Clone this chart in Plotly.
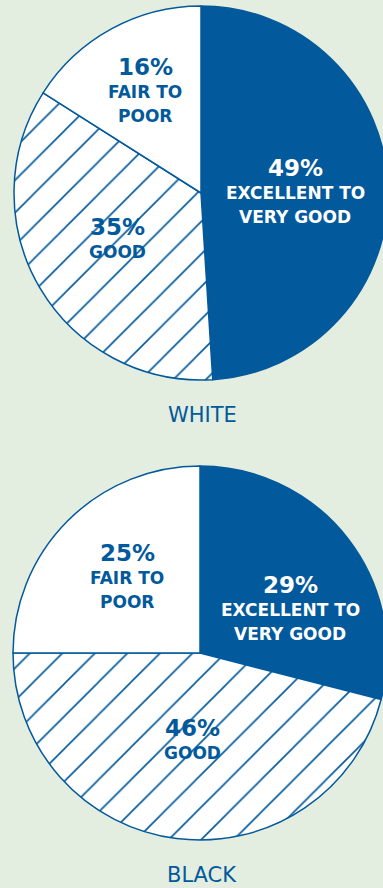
import plotly.graph_objects as go

# ---- data ----
categories = ["EXCELLENT TO<br>VERY GOOD", "GOOD", "FAIR TO<br>POOR"]
white_values = [49, 35, 16]
black_values = [29, 46, 25]
group_titles = ["WHITE", "BLACK"]

# ---- style ----
BLUE = "#02599b"
BG = "#e3ede0"
W, H = 390, 888
FONT = "DejaVu Sans"

slice_colors = [BLUE, "white", "white"]
slice_patterns = ["", "/", ""]
text_colors = ["white", BLUE, BLUE]

# pie geometry in pixels (center x, center y from top, radius)
pies = [(201, 193, 187), (200, 653, 187)]
# label anchor points (x, y of percent line) per slice for each pie
label_pos = [
    [(295, 168), (117, 227), (145, 67)],
    [(290, 585), (192, 728), (127, 553)],
]
title_y = [415, 875]

fig = go.Figure()
anns = []
for p, (vals, (cx, cy, r)) in enumerate(zip([white_values, black_values], pies)):
    fig.add_trace(go.Pie(
        labels=[c.replace("<br>", " ") for c in categories],
        values=vals,
        sort=False,
        direction="clockwise",
        rotation=0,
        textinfo="none",
        hoverinfo="label+percent",
        showlegend=False,
        marker=dict(
            colors=slice_colors,
            line=dict(color=BLUE, width=1.5),
            pattern=dict(shape=slice_patterns, fgcolor=BLUE, bgcolor="white",
                         size=23, solidity=0.07, fillmode="replace"),
        ),
        domain=dict(x=[(cx - r) / W, (cx + r) / W],
                    y=[(H - cy - r) / H, (H - cy + r) / H]),
    ))
    for i, v in enumerate(vals):
        x, y = label_pos[p][i]
        anns.append(dict(text=f"<b>{v}%</b>", x=x / W, y=1 - y / H,
                         xref="paper", yref="paper", showarrow=False,
                         xanchor="center", yanchor="middle",
                         font=dict(family=FONT, size=23, color=text_colors[i])))
        for j, line in enumerate(categories[i].split("<br>")):
            anns.append(dict(text=f"<b>{line}</b>", x=x / W,
                             y=1 - (y + 25 + 24 * j) / H,
                             xref="paper", yref="paper", showarrow=False,
                             xanchor="center", yanchor="middle",
                             font=dict(family=FONT, size=17, color=text_colors[i])))
    anns.append(dict(text=group_titles[p], x=202 / W, y=1 - title_y[p] / H,
                     xref="paper", yref="paper", showarrow=False,
                     xanchor="center", yanchor="middle",
                     font=dict(family=FONT, size=21, color=BLUE)))

fig.update_layout(
    width=W, height=H,
    margin=dict(l=0, r=0, t=0, b=0),
    paper_bgcolor=BG, plot_bgcolor=BG,
    annotations=anns,
)

fig.write_html(
    "out.html",
    config={"displayModeBar": False},
    post_script="document.documentElement.style.overflow='hidden';document.body.style.overflow='hidden';document.body.style.margin='0';",
)
